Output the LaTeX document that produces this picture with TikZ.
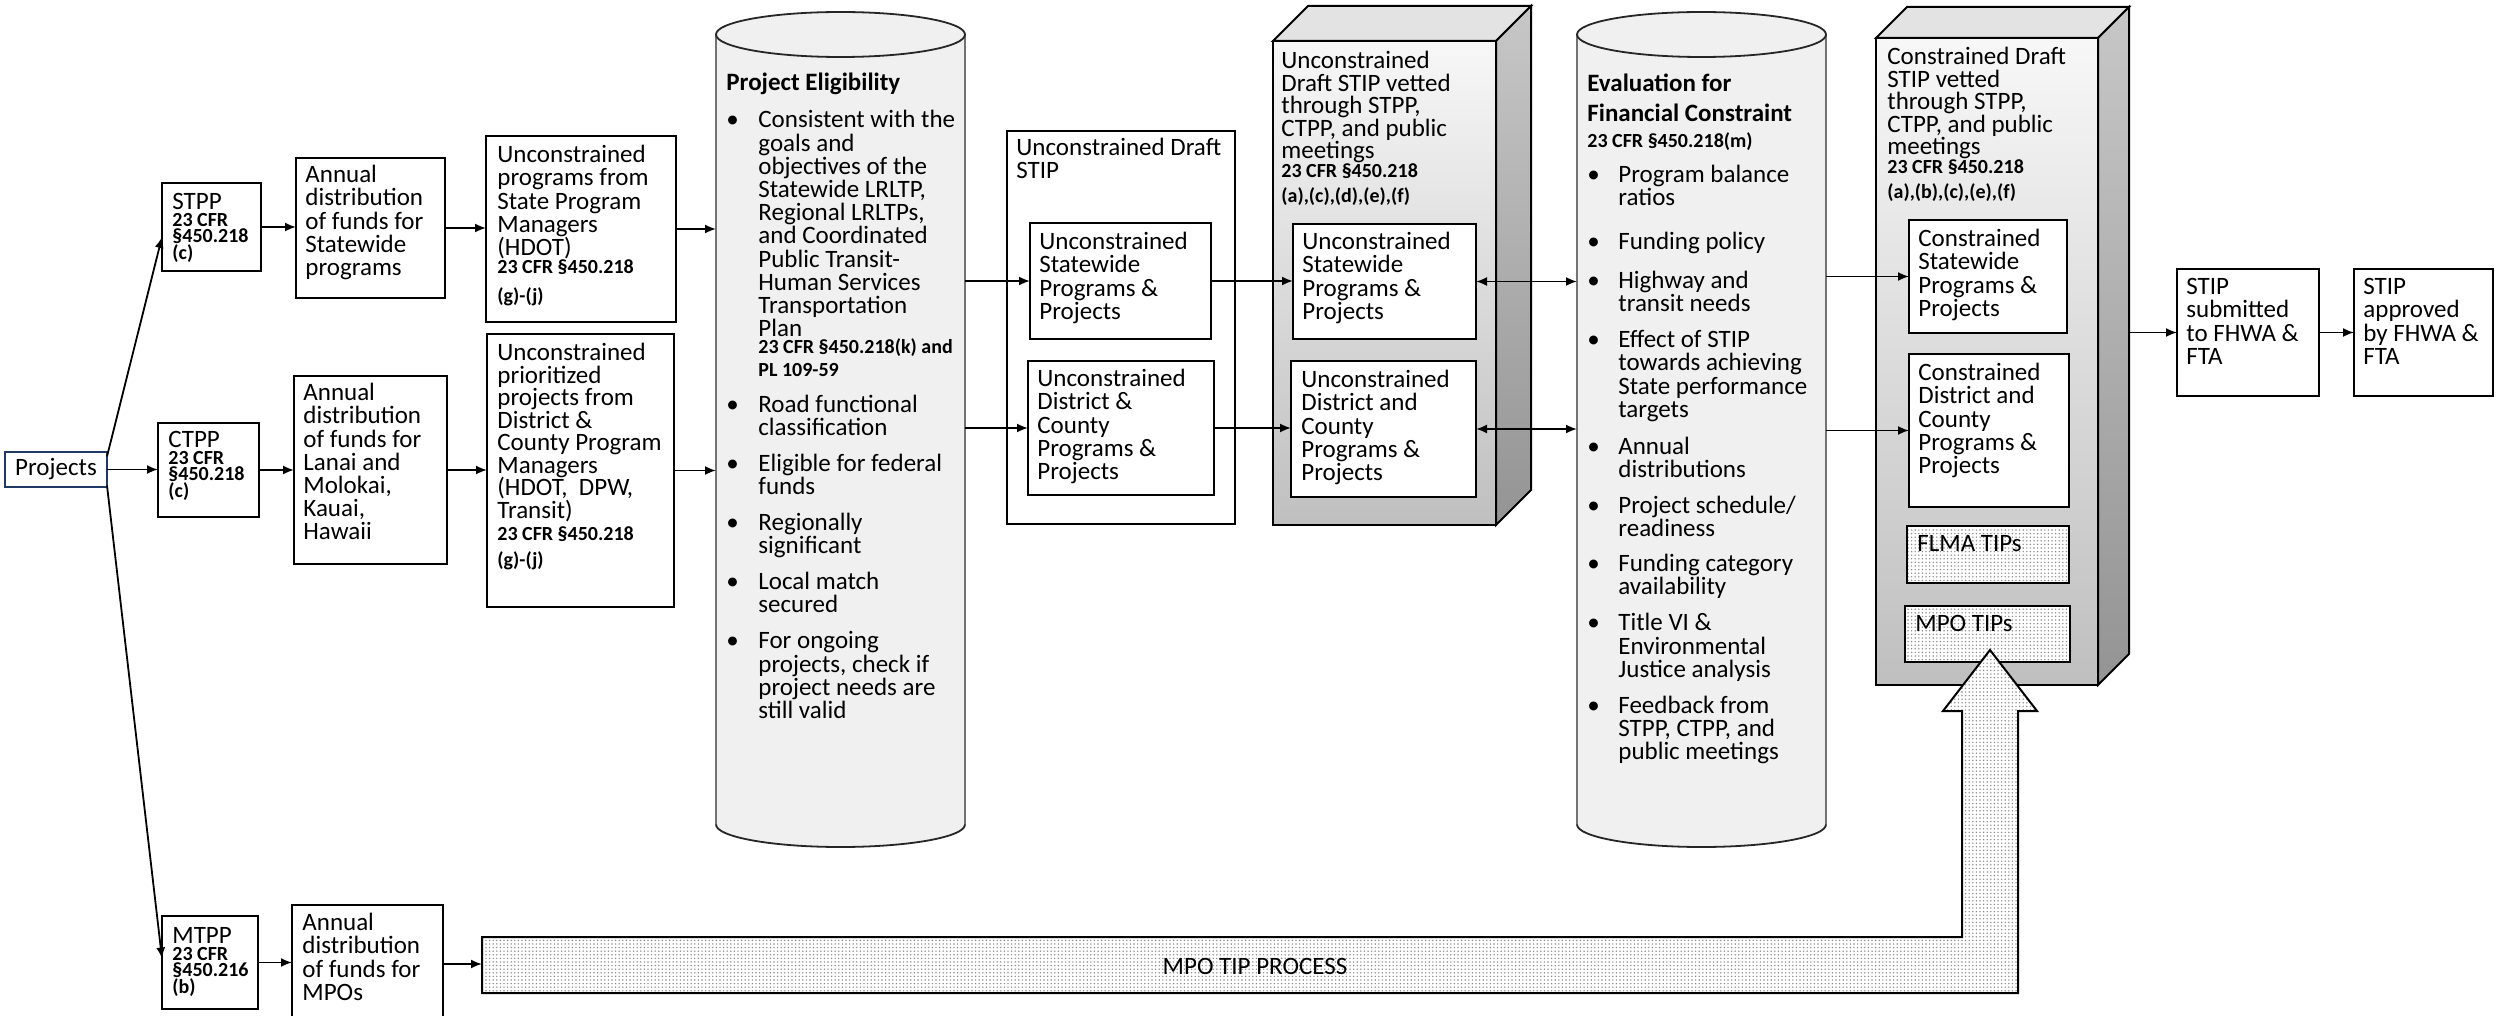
\documentclass[tikz,border=0pt]{standalone}
\usepackage{fontspec}
\setmainfont{Carlito}
\usetikzlibrary{arrows.meta,patterns,calc}
\pgfdeclarepatternformonly{finedots}{\pgfqpoint{-0.5pt}{-0.5pt}}{\pgfqpoint{0.5pt}{0.5pt}}{\pgfqpoint{1.8pt}{1.8pt}}{\pgfpathcircle{\pgfqpoint{0pt}{0pt}}{0.4pt}\pgfusepath{fill}}
\definecolor{navy}{RGB}{31,56,100}
\newcommand\mfs{\fontsize{12.5}{11.6}\selectfont\lineskiplimit=-30pt\relax}
\newcommand\mfsb{\fontsize{12.5}{11.25}\selectfont\lineskiplimit=-30pt\relax}
\newcommand\smb{\fontsize{10}{8.3}\selectfont\bfseries}
\newcommand\bitem[3][6.4pt]{\par\vspace{#1}{\leftskip=#2\noindent\hskip-#2\hbox to #2{\textbullet\hfil}#3\par}}
\newcommand\mkbox[6][box]{\node[#1, minimum width=#5*0.5pt, minimum height=#6*0.5pt] (#2) at (#3,#4) {};}
\tikzset{
 box/.style={draw=black, line width=1pt, fill=white, inner sep=0pt, outer sep=0pt, anchor=north west},
 dbox/.style={draw=black, line width=1pt, preaction={fill=white}, pattern=finedots, pattern color=black!45, inner sep=0pt, outer sep=0pt, anchor=north west},
 ghost/.style={draw=none, inner sep=0pt, outer sep=0pt, anchor=north west},
 front/.style={draw=black, line width=1pt, top color=black!3, bottom color=black!25, inner sep=0pt, outer sep=0pt, anchor=north west},
 side/.style={draw=black, line width=1pt, top color=black!22, bottom color=black!42},
 topf/.style={draw=black, line width=1pt, fill=black!11},
 txt/.style={inner sep=0pt, anchor=north west, align=flush left, font=\mfs},
 arr/.style={line width=0.9pt, -{Latex[length=5.5pt,width=4.5pt]}},
 dbl/.style={line width=0.9pt, {Latex[length=5.5pt,width=4.5pt]}-{Latex[length=5.5pt,width=4.5pt]}},
 cylside/.style={draw=black!55, line width=1pt},
 cylend/.style={draw=black!85, line width=0.9pt},
}
\begin{document}
\begin{tikzpicture}[x=0.5pt,y=-0.5pt]
\useasboundingbox (0,0) rectangle (2496,1016);

% ---------- left column ----------
\node[box, draw=navy, minimum width=102*0.5pt, minimum height=35*0.5pt, font=\mfs] (proj) at (5,452) {Projects};

\mkbox{stpp}{162}{183}{99}{88}
\node[txt, text width=45pt] (stpp-t) at (172,193) {STPP\par{\smb 23 CFR\\§450.218\\(c)\par}};
\mkbox{ctpp}{158}{423}{101}{94}
\node[txt, text width=45pt] (ctpp-t) at (168,431) {CTPP\par{\smb 23 CFR\\§450.218\\(c)\par}};
\mkbox{mtpp}{162}{916}{96}{93}
\node[txt, text width=45pt] (mtpp-t) at (172,927) {MTPP\par{\smb 23 CFR\\§450.216\\(b)\par}};

\mkbox{ann1}{296}{158}{149}{140}
\node[txt, text width=70pt] (ann1-t) at (305,165) {Annual\\distribution\\of funds for\\Statewide\\programs};
\mkbox{ann2}{294}{376}{153}{188}
\node[txt, text width=70pt] (ann2-t) at (303,383) {Annual\\distribution\\of funds for\\Lanai and\\Molokai,\\Kauai,\\Hawaii};
\mkbox{ann3}{292}{905}{151}{140}
\node[txt, text width=70pt] (ann3-t) at (302,913) {Annual\\distribution\\of funds for\\MPOs};

\mkbox{uprog}{486}{136}{190}{186}
\node[txt, text width=90pt] (uprog-t) at (497,145) {Unconstrained\\programs from\\State Program\\Managers\\(HDOT)\\[0.6pt]{\smb 23 CFR §450.218\\[2.9pt](g)-(j)}};
\mkbox{uprio}{487}{334}{187}{273}
\node[txt, text width=90pt, font=\mfsb] (uprio-t) at (497,343) {Unconstrained\\prioritized\\projects from\\District \&\\County Program\\Managers\\(HDOT,~~DPW,\\Transit)\\[3pt]{\smb 23 CFR §450.218\\[1.75pt](g)-(j)}};

% ---------- cylinder 1 ----------
\node[ghost, minimum width=249*0.5pt, minimum height=835*0.5pt] (cyl1) at (716,12) {};
\fill[black!6] (716,34.5) -- (716,824.5) arc[start angle=180,end angle=0,x radius=124.5,y radius=22.5] -- (965,34.5) -- cycle;
\draw[cylside] (716,34.5) -- (716,824.5);
\draw[cylside] (965,34.5) -- (965,824.5);
\draw[cylend] (716,824.5) arc[start angle=180,end angle=0,x radius=124.5,y radius=22.5];
\draw[cylend, fill=black!6] (840.5,34.5) ellipse [x radius=124.5, y radius=22.5];
\node[txt, text width=150pt] (cyl1-t) at (726,73) {\noindent\textbf{Project Eligibility}\par
\bitem[6.9pt]{16pt}{Consistent with the\\goals and\\objectives of the\\Statewide LRLTP,\\Regional LRLTPs,\\and Coordinated\\Public Transit-\\Human Services\\Transportation\\Plan\\{\smb 23 CFR §450.218(k) and\\PL 109-59}}
\bitem[6.2pt]{16pt}{Road functional\\classification}
\bitem{16pt}{Eligible for federal\\funds}
\bitem{16pt}{Regionally\\significant}
\bitem{16pt}{Local match\\secured}
\bitem{16pt}{For ongoing\\projects, check if\\project needs are\\still valid}};

% ---------- unconstrained draft STIP ----------
\mkbox{draft}{1007}{131}{228}{393}
\node[txt, text width=110pt] (draft-t) at (1016,138) {Unconstrained Draft\\STIP};
\mkbox{dsw}{1030}{223}{181}{116}
\node[txt, text width=85pt] (dsw-t) at (1039,232) {Unconstrained\\Statewide\\Programs \&\\Projects};
\mkbox{ddc}{1028}{361}{186}{134}
\node[txt, text width=85pt] (ddc-t) at (1037,369) {Unconstrained\\District \&\\County\\Programs \&\\Projects};

% ---------- 3D box 1 ----------
\node[front, minimum width=223*0.5pt, minimum height=484*0.5pt] (vet1) at (1273,41) {};
\draw[topf] (vet1.north west) -- ++(35,-35) -- ++(223,0) -- (vet1.north east) -- cycle;
\draw[side] (vet1.north east) -- ++(35,-35) -- ++(0,484) -- (vet1.south east) -- cycle;
\node[txt, text width=105pt, font=\mfsb] (vet1-t) at (1281,51) {Unconstrained\\Draft STIP vetted\\through STPP,\\CTPP, and public\\meetings\\[1pt]{\smb 23 CFR §450.218\\[1.2pt](a),(c),(d),(e),(f)}};
\mkbox{v1sw}{1293}{224}{183}{115}
\node[txt, text width=85pt] (v1sw-t) at (1302,232) {Unconstrained\\Statewide\\Programs \&\\Projects};
\mkbox{v1dc}{1291}{361}{185}{136}
\node[txt, text width=85pt] (v1dc-t) at (1301,370) {Unconstrained\\District and\\County\\Programs \&\\Projects};

% ---------- cylinder 2 ----------
\node[ghost, minimum width=249*0.5pt, minimum height=835*0.5pt] (cyl2) at (1577,12) {};
\fill[black!6] (1577,34.5) -- (1577,824.5) arc[start angle=180,end angle=0,x radius=124.5,y radius=22.5] -- (1826,34.5) -- cycle;
\draw[cylside] (1577,34.5) -- (1577,824.5);
\draw[cylside] (1826,34.5) -- (1826,824.5);
\draw[cylend] (1577,824.5) arc[start angle=180,end angle=0,x radius=124.5,y radius=22.5];
\draw[cylend, fill=black!6] (1701.5,34.5) ellipse [x radius=124.5, y radius=22.5];
\node[txt, text width=150pt] (cyl2-t) at (1587,74) {\noindent\textbf{Evaluation for\\[3.4pt]Financial Constraint\\[1.1pt]{\smb 23 CFR §450.218(m)}}\par
\bitem[5.9pt]{15.5pt}{Program balance\\ratios}
\bitem[10.4pt]{15.5pt}{Funding policy}
\bitem[7.9pt]{15.5pt}{Highway and\\transit needs}
\bitem{15.5pt}{Effect of STIP\\towards achieving\\State performance\\targets}
\bitem[6.9pt]{15.5pt}{Annual\\distributions}
\bitem{15.5pt}{Project schedule/\\readiness}
\bitem[5.9pt]{15.5pt}{Funding category\\availability}
\bitem{15.5pt}{Title VI \&\\Environmental\\Justice analysis}
\bitem{15.5pt}{Feedback from\\STPP, CTPP, and\\public meetings}};

% ---------- 3D box 2 ----------
\node[front, minimum width=222*0.5pt, minimum height=647*0.5pt] (vet2) at (1876,38) {};
\draw[topf] (vet2.north west) -- ++(31,-31) -- ++(222,0) -- (vet2.north east) -- cycle;
\draw[side] (vet2.north east) -- ++(31,-31) -- ++(0,647) -- (vet2.south east) -- cycle;
\node[txt, text width=105pt, font=\mfsb] (vet2-t) at (1887,47) {Constrained Draft\\STIP vetted\\through STPP,\\CTPP, and public\\meetings\\[1pt]{\smb 23 CFR §450.218\\[1.2pt](a),(b),(c),(e),(f)}};
\mkbox{v2sw}{1909}{220}{158}{113}
\node[txt, text width=75pt] (v2sw-t) at (1918,229) {Constrained\\Statewide\\Programs \&\\Projects};
\mkbox{v2dc}{1909}{354}{160}{153}
\node[txt, text width=75pt] (v2dc-t) at (1918,363) {Constrained\\District and\\County\\Programs \&\\Projects};
\mkbox[dbox]{flma}{1907}{526}{162}{57}
\node[txt, text width=75pt] (flma-t) at (1917,535) {FLMA TIPs};
\mkbox[dbox]{mpot}{1905}{606}{165}{56}
\node[txt, text width=75pt] (mpot-t) at (1915,615) {MPO TIPs};

% ---------- MPO TIP process bar with up arrow ----------
\coordinate (barL) at (482,964);
\draw[line width=1pt, preaction={fill=white}, pattern=finedots, pattern color=black!45]
  (482,937) -- (1962,937) -- (1962,711) -- (1943,711) -- (1990,650) -- (2037,711) -- (2018,711) -- (2018,993) -- (482,993) -- cycle;
\node[font=\mfs, inner sep=0pt] (mpotxt) at (1255,966) {MPO TIP PROCESS};

% ---------- final boxes ----------
\mkbox{sub}{2177}{269}{142}{127}
\node[txt, text width=65pt] (sub-t) at (2186,278) {STIP\\submitted\\to FHWA \&\\FTA};
\mkbox{app}{2354}{269}{139}{127}
\node[txt, text width=65pt] (app-t) at (2363,278) {STIP\\approved\\by FHWA \&\\FTA};

% ---------- connectors ----------
\draw[arr] ([yshift=6.5pt]proj.east) -- ([yshift=-5pt]stpp.west);
\draw[arr] (proj.east) -- (proj.east -| ctpp.west);
\draw[arr] ([yshift=-8pt]proj.east) -- ([yshift=2pt]mtpp.west);
\draw[arr] (stpp.east) -- (stpp.east -| ann1.west);
\draw[arr] (ctpp.east) -- (ctpp.east -| ann2.west);
\draw[arr] (mtpp.east) -- (mtpp.east -| ann3.west);
\draw[arr] (ann1.east) -- (ann1.east -| uprog.west);
\draw[arr] (ann2.east |- ctpp.east) -- (uprio.west |- ctpp.east);
\draw[arr] (ann3.east |- barL) -- (barL);
\draw[arr] (uprog.east) -- (uprog.east -| cyl1.west);
\draw[arr] (uprio.east) -- (uprio.east -| cyl1.west);
\draw[arr] (dsw.west -| cyl1.east) -- (dsw.west);
\draw[arr] (ddc.west -| cyl1.east) -- (ddc.west);
\draw[arr] (dsw.east) -- (dsw.east -| v1sw.west);
\draw[arr] (ddc.east) -- (ddc.east -| v1dc.west);
\draw[dbl] (v1sw.east) -- (v1sw.east -| cyl2.west);
\draw[dbl] (v1dc.east) -- (v1dc.east -| cyl2.west);
\draw[arr] (v2sw.west -| cyl2.east) -- (v2sw.west);
\draw[arr] (v2dc.west -| cyl2.east) -- (v2dc.west);
\draw[arr] ($(sub.west -| vet2.east)+(31,0)$) -- (sub.west);
\draw[arr] (sub.east) -- (app.west);
\end{tikzpicture}
\end{document}
